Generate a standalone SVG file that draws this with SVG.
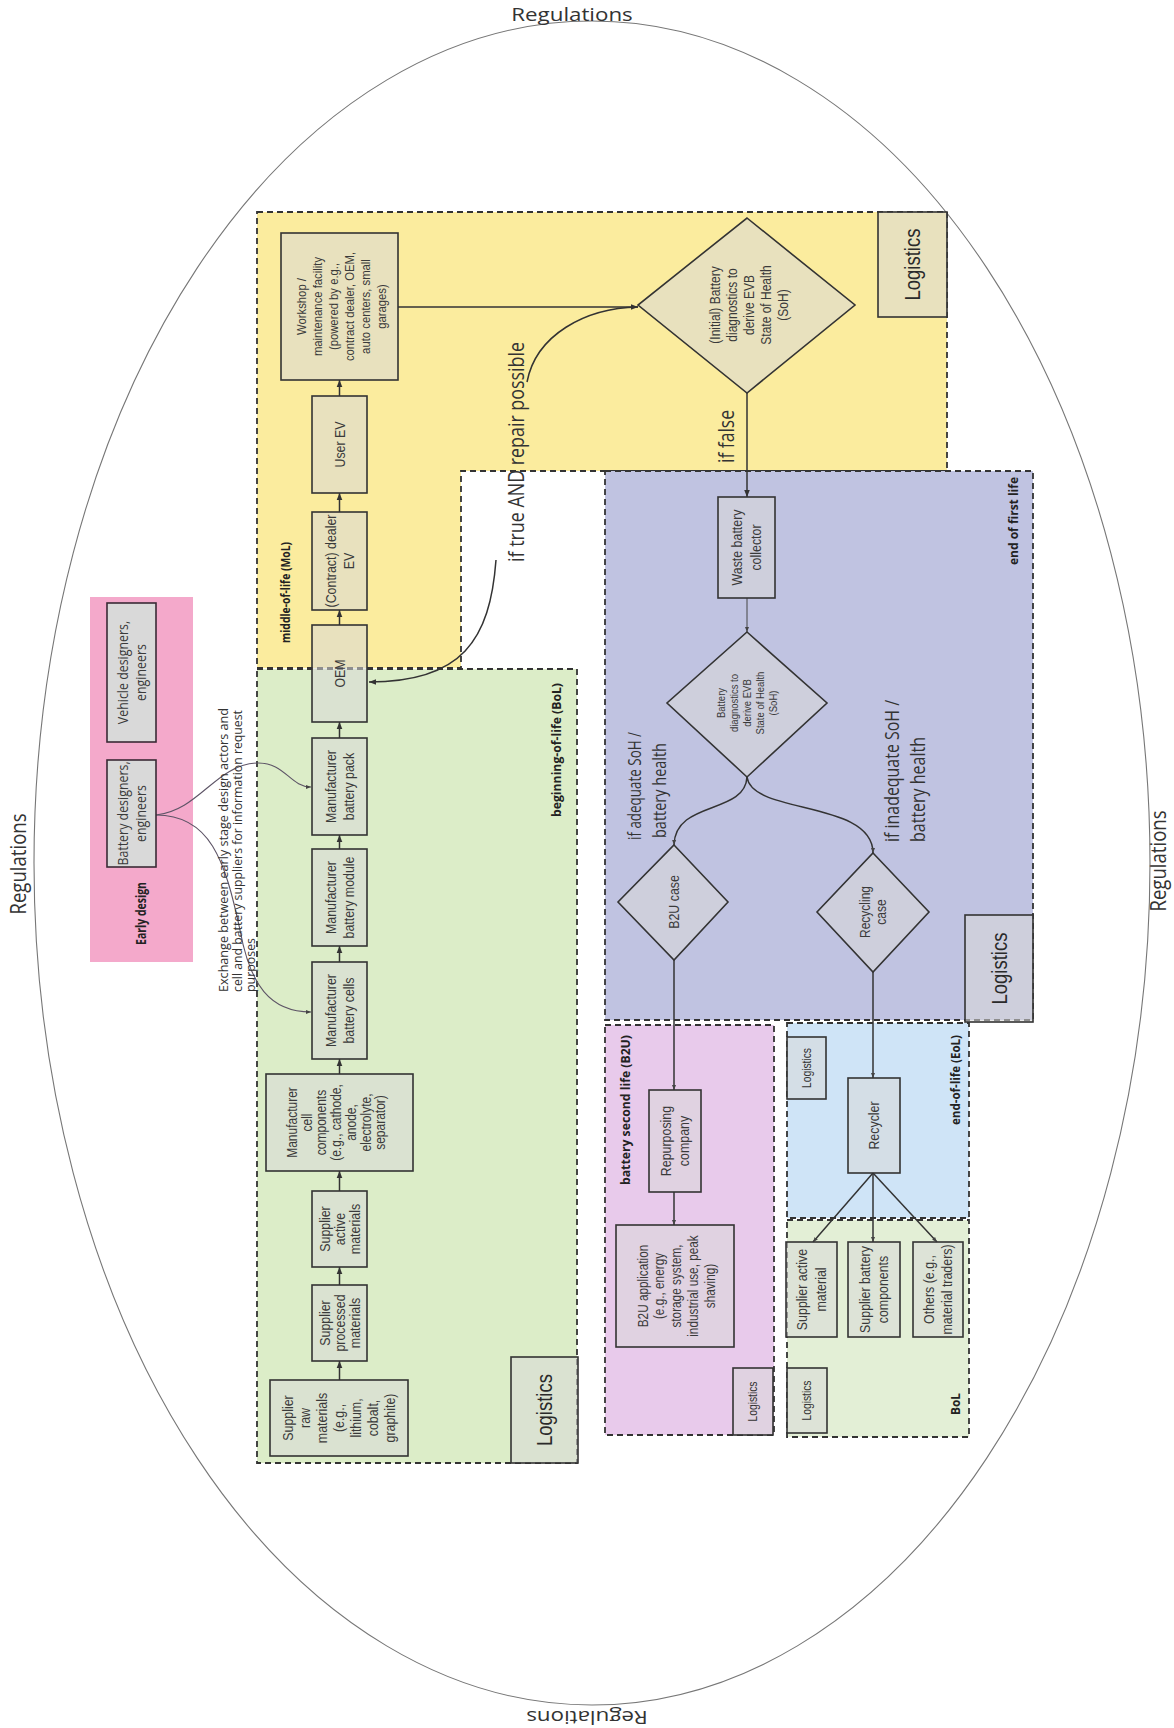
<svg xmlns="http://www.w3.org/2000/svg" width="1174" height="1728" viewBox="0 0 1174 1728">
<defs>
<style>
.bx{fill:#d9d9d9;fill-opacity:.55;stroke:#333;stroke-width:1.6}
.bxe{fill:#d9d9d9;stroke:#3a2a35;stroke-width:1.6}
.zone{stroke:#333;stroke-width:1.8;stroke-dasharray:6 4}
.t{font-family:"Liberation Sans",Arial,sans-serif;font-size:12.4px;fill:#3a3a3a;text-anchor:middle}
.lg{font-family:"Liberation Sans",Arial,sans-serif;font-size:18.5px;fill:#2a2a2a;text-anchor:middle}
.lgs{font-family:"Liberation Sans",Arial,sans-serif;font-size:10.3px;fill:#333;text-anchor:middle}
.os{font-family:"Open Sans","Noto Sans",sans-serif;font-size:12.4px;fill:#3a3a3a;text-anchor:middle}
.zl{font-family:"Open Sans","Noto Sans",sans-serif;font-weight:bold;font-size:11px;fill:#222}
.big{font-family:"Open Sans","Noto Sans",sans-serif;font-size:17.5px;fill:#333}
.ex{font-family:"Open Sans","Noto Sans",sans-serif;font-size:11px;fill:#333}
.reg{font-family:"Open Sans","Noto Sans",sans-serif;font-size:18.6px;fill:#333;text-anchor:middle}
.cn{fill:none;stroke:#333;stroke-width:1.5}
.cnt{fill:none;stroke:#444;stroke-width:1}
.cnx{fill:none;stroke:#5d5466;stroke-width:1.1}
</style>
<marker id="ah" viewBox="0 0 10 10" refX="10" refY="5" markerWidth="7" markerHeight="7" orient="auto" markerUnits="userSpaceOnUse"><path d="M0,1 L10,5 L0,9 z" fill="#333"/></marker>
<marker id="ahs" viewBox="0 0 10 10" refX="10" refY="5" markerWidth="5" markerHeight="5" orient="auto" markerUnits="userSpaceOnUse"><path d="M0,1 L10,5 L0,9 z" fill="#444"/></marker>
</defs>
<rect width="1174" height="1728" fill="#fff"/>

<g id="regulations">
<ellipse cx="592" cy="863" rx="558" ry="842" fill="none" stroke="#777" stroke-width="1.1"/>
<text class="reg" transform="translate(572 20.5) scale(1.2 1)">Regulations</text>
<text class="reg" transform="translate(25.8 864) rotate(-90) scale(1 1.2)">Regulations</text>
<text class="reg" transform="translate(1165.8 861) rotate(-90) scale(1 1.2)">Regulations</text>
<text class="reg" transform="translate(587 1710.5) rotate(180) scale(1.2 1)">Regulations</text>
</g>

<g id="regions">
<rect id="z-early" x="90" y="597" width="103" height="365" fill="#f4a9cb"/>
<polygon id="z-mol" class="zone" points="257,212 947,212 947,471 461,471 461,668 257,668" fill="#fbec9e"/>
<rect id="z-bol" class="zone" x="257" y="669" width="320" height="794" fill="#dcedc8"/>
<rect id="z-efl" class="zone" x="605" y="471" width="428" height="549" fill="#c0c3e1"/>
<rect id="z-b2u" class="zone" x="605" y="1025" width="169" height="410" fill="#e8caeb"/>
<rect id="z-eol" class="zone" x="787" y="1023" width="182" height="195" fill="#cfe4f7"/>
<rect id="z-bol2" class="zone" x="787" y="1220" width="182" height="217" fill="#e3efd6"/>
</g>

<g id="connectors">
<line class="cn" x1="339.5" y1="1380" x2="339.5" y2="1361" marker-end="url(#ah)"/>
<line class="cn" x1="339.5" y1="1285" x2="339.5" y2="1267" marker-end="url(#ah)"/>
<line class="cn" x1="339.5" y1="1191" x2="339.5" y2="1171" marker-end="url(#ah)"/>
<line class="cn" x1="339.5" y1="1074" x2="339.5" y2="1059" marker-end="url(#ah)"/>
<line class="cn" x1="339.5" y1="962" x2="339.5" y2="946" marker-end="url(#ah)"/>
<line class="cn" x1="339.5" y1="849" x2="339.5" y2="835" marker-end="url(#ah)"/>
<line class="cn" x1="339.5" y1="738" x2="339.5" y2="722" marker-end="url(#ah)"/>
<line class="cn" x1="339.5" y1="625" x2="339.5" y2="610" marker-end="url(#ah)"/>
<line class="cn" x1="339.5" y1="512" x2="339.5" y2="493" marker-end="url(#ah)"/>
<line class="cn" x1="339.5" y1="396" x2="339.5" y2="380" marker-end="url(#ah)"/>
<line class="cn" x1="398" y1="307" x2="638" y2="307" marker-end="url(#ah)"/>
<path class="cn" d="M638,307 C585,308 536,335 527,382"/>
<path class="cn" d="M496,560 C490,640 462,682 369,682" marker-end="url(#ah)"/>
<line class="cn" x1="747" y1="393" x2="747" y2="497" marker-end="url(#ah)"/>
<line class="cnt" x1="747" y1="598" x2="747" y2="632" marker-end="url(#ahs)"/>
<path class="cn" d="M747,777 C745,815 675,800 674,845" marker-end="url(#ahs)"/>
<path class="cn" d="M747,777 C752,815 873,800 873,853" marker-end="url(#ahs)"/>
<line class="cn" x1="674" y1="960" x2="674" y2="1090" marker-end="url(#ahs)"/>
<line class="cn" x1="873" y1="972" x2="873" y2="1078" marker-end="url(#ahs)"/>
<line class="cn" x1="674" y1="1192" x2="674" y2="1225" marker-end="url(#ahs)"/>
<line class="cn" x1="873" y1="1173" x2="813" y2="1242" marker-end="url(#ahs)"/>
<line class="cn" x1="873" y1="1173" x2="873" y2="1242" marker-end="url(#ahs)"/>
<line class="cn" x1="873" y1="1173" x2="937" y2="1242" marker-end="url(#ahs)"/>
<path class="cnx" d="M156,815 C200,810 215,765 257,763 C285,762 290,787 311,787" marker-end="url(#ahs)"/>
<path class="cnx" d="M156,815 C210,815 225,860 240,930 C250,985 270,1012 311,1012" marker-end="url(#ahs)"/>
</g>

<g id="n-vehicle"><rect class="bxe" x="107" y="603" width="49" height="139"/>
<text class="os" transform="translate(131.5 672.5) rotate(-90) scale(1 1.2)"><tspan x="0" y="-3.2">Vehicle designers,</tspan><tspan x="0" y="11.8">engineers</tspan></text></g>
<g id="n-batdes"><rect class="bxe" x="107" y="760" width="49" height="107"/>
<text class="os" transform="translate(131.5 813.5) rotate(-90) scale(1 1.2)"><tspan x="0" y="-3.2">Battery designers,</tspan><tspan x="0" y="11.8">engineers</tspan></text></g>

<g id="n-workshop"><rect class="bx" x="281" y="233" width="117" height="147"/>
<text class="t" style="font-size:11.3px" transform="translate(341 306.5) rotate(-90) scale(1 1.2)"><tspan x="0" y="-29.3">Workshop /</tspan><tspan x="0" y="-16">maintenance facility</tspan><tspan x="0" y="-2.7">(powered by e.g.,</tspan><tspan x="0" y="10.6">contract dealer, OEM,</tspan><tspan x="0" y="23.9">auto centers, small</tspan><tspan x="0" y="37.2">garages)</tspan></text></g>
<g id="n-user"><rect class="bx" x="312" y="396" width="55" height="97"/>
<text class="t" transform="translate(339.5 444.5) rotate(-90) scale(1 1.2)"><tspan x="0" y="4.3">User EV</tspan></text></g>
<g id="n-dealer"><rect class="bx" x="312" y="512" width="55" height="98"/>
<text class="t" transform="translate(339.5 561) rotate(-90) scale(1 1.2)"><tspan x="0" y="-3.2">(Contract) dealer</tspan><tspan x="0" y="11.8">EV</tspan></text></g>
<g id="n-oem"><rect class="bx" x="312" y="625" width="55" height="97"/>
<text class="t" transform="translate(339.5 673.5) rotate(-90) scale(1 1.2)"><tspan x="0" y="4.3">OEM</tspan></text></g>
<g id="n-pack"><rect class="bx" x="312" y="738" width="55" height="97"/>
<text class="t" transform="translate(339.5 786.5) rotate(-90) scale(1 1.2)"><tspan x="0" y="-3.2">Manufacturer</tspan><tspan x="0" y="11.8">battery pack</tspan></text></g>
<g id="n-module"><rect class="bx" x="312" y="849" width="55" height="97"/>
<text class="t" transform="translate(339.5 897.5) rotate(-90) scale(1 1.2)"><tspan x="0" y="-3.2">Manufacturer</tspan><tspan x="0" y="11.8">battery module</tspan></text></g>
<g id="n-cells"><rect class="bx" x="312" y="962" width="55" height="97"/>
<text class="t" transform="translate(339.5 1010.5) rotate(-90) scale(1 1.2)"><tspan x="0" y="-3.2">Manufacturer</tspan><tspan x="0" y="11.8">battery cells</tspan></text></g>
<g id="n-cellcomp"><rect class="bx" x="266" y="1074" width="147" height="97"/>
<text class="t" style="font-size:12px" transform="translate(336 1122.5) rotate(-90) scale(1 1.2)"><tspan x="0" y="-32.7">Manufacturer</tspan><tspan x="0" y="-20.4">cell</tspan><tspan x="0" y="-8.1">components</tspan><tspan x="0" y="4.2">(e.g., cathode,</tspan><tspan x="0" y="16.5">anode,</tspan><tspan x="0" y="28.8">electrolyte,</tspan><tspan x="0" y="41.1">separator)</tspan></text></g>
<g id="n-active"><rect class="bx" x="312" y="1191" width="55" height="76"/>
<text class="t" transform="translate(339.5 1229) rotate(-90) scale(1 1.2)"><tspan x="0" y="-8.2">Supplier</tspan><tspan x="0" y="4.3">active</tspan><tspan x="0" y="16.8">materials</tspan></text></g>
<g id="n-processed"><rect class="bx" x="312" y="1285" width="55" height="76"/>
<text class="t" transform="translate(339.5 1323) rotate(-90) scale(1 1.2)"><tspan x="0" y="-8.2">Supplier</tspan><tspan x="0" y="4.3">processed</tspan><tspan x="0" y="16.8">materials</tspan></text></g>
<g id="n-raw"><rect class="bx" x="270" y="1380" width="138" height="76"/>
<text class="t" transform="translate(339 1418) rotate(-90) scale(1 1.2)"><tspan x="0" y="-38.3">Supplier</tspan><tspan x="0" y="-24.1">raw</tspan><tspan x="0" y="-9.9">materials</tspan><tspan x="0" y="4.3">(e.g.,</tspan><tspan x="0" y="18.5">lithium,</tspan><tspan x="0" y="32.7">cobalt,</tspan><tspan x="0" y="46.9">graphite)</tspan></text></g>
<g id="n-log-bol"><rect class="bx" x="511" y="1357" width="67" height="106"/>
<text class="lg" transform="translate(544.5 1410) rotate(-90) scale(1 1.2)"><tspan x="0" y="6.5">Logistics</tspan></text></g>

<g id="n-diag1"><polygon class="bx" points="747,218 855,305 747,393 638,305"/>
<text class="t" style="font-size:12px" transform="translate(749 305) rotate(-90) scale(1 1.2)"><tspan x="0" y="-23.8">(Initial) Battery</tspan><tspan x="0" y="-9.8">diagnostics to</tspan><tspan x="0" y="4.2">derive EVB</tspan><tspan x="0" y="18.2">State of Health</tspan><tspan x="0" y="32.2">(SoH)</tspan></text></g>
<g id="n-log-mol"><rect class="bx" x="878" y="212" width="69" height="105"/>
<text class="lg" transform="translate(912.5 264.5) rotate(-90) scale(1 1.2)"><tspan x="0" y="6.5">Logistics</tspan></text></g>

<g id="n-waste"><rect class="bx" x="718" y="497" width="57" height="101"/>
<text class="t" transform="translate(746.5 547.5) rotate(-90) scale(1 1.2)"><tspan x="0" y="-3.45">Waste battery</tspan><tspan x="0" y="12.05">collector</tspan></text></g>
<g id="n-diag2"><polygon class="bx" points="747,632 827,703 747,777 667,703"/>
<text class="t" style="font-size:9.5px" transform="translate(747 703) rotate(-90) scale(1 1.2)"><tspan x="0" y="-18.3">Battery</tspan><tspan x="0" y="-7.5">diagnostics to</tspan><tspan x="0" y="3.3">derive EVB</tspan><tspan x="0" y="14.1">State of Health</tspan><tspan x="0" y="24.9">(SoH)</tspan></text></g>
<g id="n-b2ucase"><polygon class="bx" points="674,845 728,902 674,960 618,902"/>
<text class="t" transform="translate(674 902) rotate(-90) scale(1 1.2)"><tspan x="0" y="4.3">B2U case</tspan></text></g>
<g id="n-recycase"><polygon class="bx" points="873,853 929,912 873,972 817,912"/>
<text class="t" style="font-size:12px" transform="translate(873 912) rotate(-90) scale(1 1.2)"><tspan x="0" y="-2.45">Recycling</tspan><tspan x="0" y="11.05">case</tspan></text></g>
<g id="n-log-efl"><rect class="bx" x="965" y="915" width="68" height="107"/>
<text class="lg" transform="translate(999 968.5) rotate(-90) scale(1 1.2)"><tspan x="0" y="6.5">Logistics</tspan></text></g>

<g id="n-repurp"><rect class="bx" x="649" y="1090" width="52" height="102"/>
<text class="t" transform="translate(675 1141) rotate(-90) scale(1 1.2)"><tspan x="0" y="-3.45">Repurposing</tspan><tspan x="0" y="12.05">company</tspan></text></g>
<g id="n-b2uapp"><rect class="bx" x="616" y="1225" width="118" height="122"/>
<text class="t" style="font-size:11.8px" transform="translate(676 1286) rotate(-90) scale(1 1.2)"><tspan x="0" y="-23.7">B2U application</tspan><tspan x="0" y="-9.7">(e.g., energy</tspan><tspan x="0" y="4.3">storage system,</tspan><tspan x="0" y="18.3">industrial use, peak</tspan><tspan x="0" y="32.3">shaving)</tspan></text></g>
<g id="n-log-b2u"><rect class="bx" x="733" y="1368" width="40" height="67"/>
<text class="lgs" transform="translate(753 1401.5) rotate(-90) scale(1 1.2)"><tspan x="0" y="3.6">Logistics</tspan></text></g>

<g id="n-log-eol"><rect class="bx" x="787" y="1037" width="39" height="62"/>
<text class="lgs" transform="translate(806.5 1068) rotate(-90) scale(1 1.2)"><tspan x="0" y="3.6">Logistics</tspan></text></g>
<g id="n-recycler"><rect class="bx" x="848" y="1078" width="52" height="95"/>
<text class="t" transform="translate(874 1125.5) rotate(-90) scale(1 1.2)"><tspan x="0" y="4.3">Recycler</tspan></text></g>
<g id="n-supact"><rect class="bx" x="786" y="1242" width="51" height="95"/>
<text class="t" transform="translate(811.5 1289.5) rotate(-90) scale(1 1.2)"><tspan x="0" y="-3.45">Supplier active</tspan><tspan x="0" y="12.05">material</tspan></text></g>
<g id="n-supbat"><rect class="bx" x="848" y="1242" width="52" height="95"/>
<text class="t" transform="translate(874 1289.5) rotate(-90) scale(1 1.2)"><tspan x="0" y="-3.45">Supplier battery</tspan><tspan x="0" y="12.05">components</tspan></text></g>
<g id="n-others"><rect class="bx" x="913" y="1242" width="50" height="95"/>
<text class="t" transform="translate(938 1289.5) rotate(-90) scale(1 1.2)"><tspan x="0" y="-3.45">Others (e.g.,</tspan><tspan x="0" y="12.05">material traders)</tspan></text></g>
<g id="n-log-bol2"><rect class="bx" x="787" y="1368" width="40" height="65"/>
<text class="lgs" transform="translate(807 1400.5) rotate(-90) scale(1 1.2)"><tspan x="0" y="3.6">Logistics</tspan></text></g>

<g id="labels">
<text class="zl" style="font-size:11.5px" transform="translate(145.8 945) rotate(-90) scale(1 1.2)" textLength="63" lengthAdjust="spacingAndGlyphs">Early design</text>
<text class="zl" transform="translate(289.6 643) rotate(-90) scale(1 1.2)" textLength="101" lengthAdjust="spacingAndGlyphs">middle-of-life (MoL)</text>
<text class="zl" transform="translate(560.6 817) rotate(-90) scale(1 1.2)" textLength="134" lengthAdjust="spacingAndGlyphs">beginning-of-life (BoL)</text>
<text class="zl" transform="translate(1017.6 565) rotate(-90) scale(1 1.2)" textLength="88" lengthAdjust="spacingAndGlyphs">end of first life</text>
<text class="zl" transform="translate(629.6 1185) rotate(-90) scale(1 1.2)" textLength="150" lengthAdjust="spacingAndGlyphs">battery second life (B2U)</text>
<text class="zl" transform="translate(959.6 1125) rotate(-90) scale(1 1.2)" textLength="90" lengthAdjust="spacingAndGlyphs">end-of-life (EoL)</text>
<text class="zl" transform="translate(959.6 1415) rotate(-90) scale(1 1.2)" textLength="22" lengthAdjust="spacingAndGlyphs">BoL</text>
<text class="big" transform="translate(524 562) rotate(-90) scale(1 1.2)" textLength="220" lengthAdjust="spacingAndGlyphs">if true AND repair possible</text>
<text class="big" transform="translate(734 463) rotate(-90) scale(1 1.2)" textLength="53" lengthAdjust="spacingAndGlyphs">if false</text>
<text class="big" style="font-size:15px" transform="translate(641 840) rotate(-90) scale(1 1.2)" textLength="108" lengthAdjust="spacingAndGlyphs">if adequate SoH /</text>
<text class="big" style="font-size:15px" transform="translate(666 838) rotate(-90) scale(1 1.2)" textLength="95" lengthAdjust="spacingAndGlyphs">battery health</text>
<text class="big" style="font-size:16px" transform="translate(899 842) rotate(-90) scale(1 1.2)" textLength="142" lengthAdjust="spacingAndGlyphs">if inadequate SoH /</text>
<text class="big" style="font-size:16px" transform="translate(925 842) rotate(-90) scale(1 1.2)" textLength="105" lengthAdjust="spacingAndGlyphs">battery health</text>
<text class="ex" transform="translate(227.6 992) rotate(-90) scale(1 1.2)" textLength="284" lengthAdjust="spacingAndGlyphs">Exchange between early stage design actors and</text>
<text class="ex" transform="translate(241.6 992) rotate(-90) scale(1 1.2)" textLength="282" lengthAdjust="spacingAndGlyphs">cell and battery suppliers for information request</text>
<text class="ex" transform="translate(254.6 992) rotate(-90) scale(1 1.2)" textLength="54" lengthAdjust="spacingAndGlyphs">purposes</text>
</g>
</svg>
